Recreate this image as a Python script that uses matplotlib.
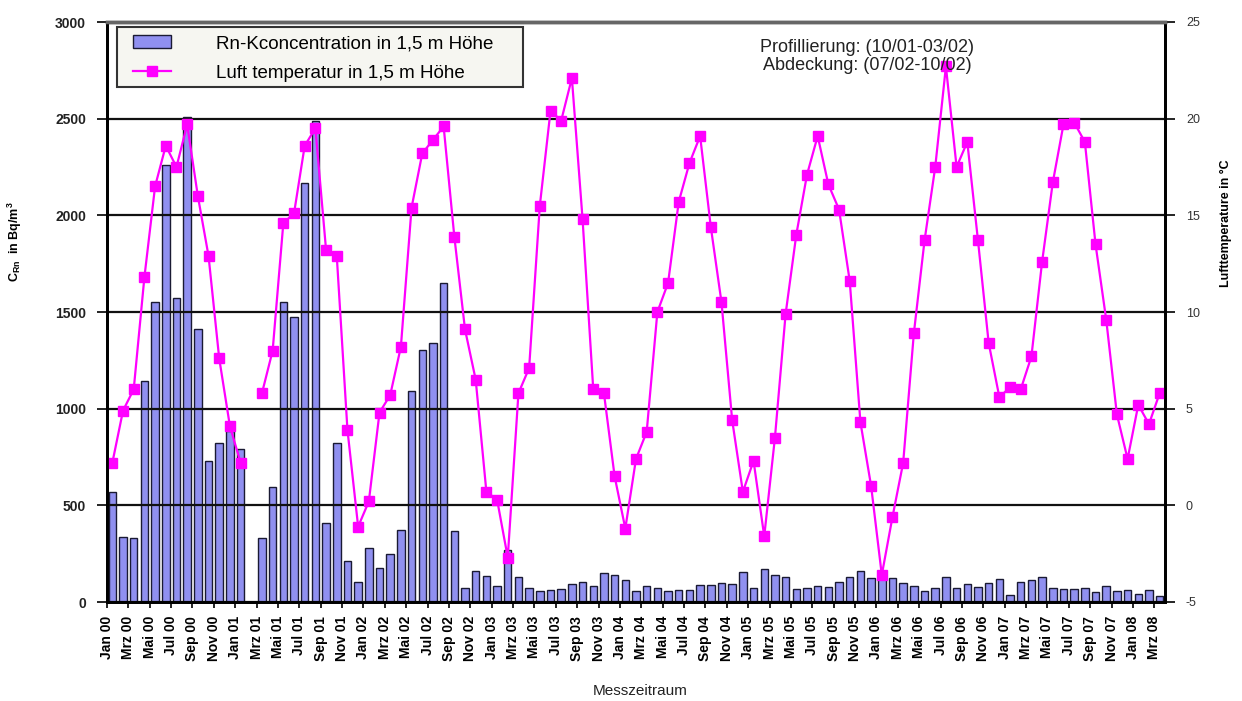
import numpy as np
import matplotlib
matplotlib.use('Agg')
import matplotlib.pyplot as plt
from matplotlib.patches import Rectangle

# Schrift wie im Original (Arial-Metrik)
plt.rcParams['font.family'] = ['Liberation Sans', 'DejaVu Sans']
plt.rcParams['mathtext.fontset'] = 'custom'
plt.rcParams['mathtext.rm'] = 'Liberation Sans'
plt.rcParams['mathtext.bf'] = 'Liberation Sans:bold'
plt.rcParams['axes.unicode_minus'] = False

# Monate Jan 00 ... Mrz 08
monate = ['Jan', 'Feb', 'Mrz', 'Apr', 'Mai', 'Jun', 'Jul', 'Aug', 'Sep', 'Okt', 'Nov', 'Dez']
jahre = ['00', '01', '02', '03', '04', '05', '06', '07', '08']
labels = [m + ' ' + j for j in jahre for m in monate][:99]

# Radon-Konzentration in Bq/m3 (Feb 01 fehlt)
radon = [
    570, 335, 333, 1145, 1553, 2260, 1575, 2510, 1410, 730, 820, 885,      # 2000
    790, np.nan, 330, 595, 1550, 1475, 2165, 2490, 410, 825, 210, 105,     # 2001
    280, 175, 250, 375, 1090, 1305, 1340, 1650, 365, 75, 160, 135,         # 2002
    85, 270, 130, 75, 55, 60, 65, 95, 105, 85, 150, 140,                   # 2003
    115, 55, 85, 75, 55, 60, 62, 88, 88, 100, 95, 157,                     # 2004
    70, 170, 140, 128, 65, 75, 83, 78, 105, 130, 160, 122,                 # 2005
    135, 125, 100, 83, 55, 75, 128, 75, 95, 78, 100, 117,                  # 2006
    36, 105, 114, 130, 70, 68, 68, 72, 50, 83, 55, 62,                     # 2007
    42, 62, 30,                                                            # 2008
]

# Lufttemperatur in °C (Feb 01 fehlt)
temperatur = [
    2.2, 4.9, 6.0, 11.8, 16.5, 18.6, 17.5, 19.7, 16.0, 12.9, 7.6, 4.1,     # 2000
    2.2, np.nan, 5.8, 8.0, 14.6, 15.1, 18.6, 19.5, 13.2, 12.9, 3.9, -1.1,  # 2001
    0.2, 4.8, 5.7, 8.2, 15.4, 18.2, 18.9, 19.6, 13.9, 9.1, 6.5, 0.7,       # 2002
    0.3, -2.7, 5.8, 7.1, 15.5, 20.4, 19.9, 22.1, 14.8, 6.0, 5.8, 1.5,      # 2003
    -1.2, 2.4, 3.8, 10.0, 11.5, 15.7, 17.7, 19.1, 14.4, 10.5, 4.4, 0.7,    # 2004
    2.3, -1.6, 3.5, 9.9, 14.0, 17.1, 19.1, 16.6, 15.3, 11.6, 4.3, 1.0,     # 2005
    -3.6, -0.6, 2.2, 8.9, 13.7, 17.5, 22.7, 17.5, 18.8, 13.7, 8.4, 5.6,    # 2006
    6.1, 6.0, 7.7, 12.6, 16.7, 19.7, 19.8, 18.8, 13.5, 9.6, 4.7, 2.4,      # 2007
    5.2, 4.2, 5.8,                                                         # 2008
]

x = np.arange(len(labels))

fig = plt.figure(figsize=(12.42, 7.01), dpi=100)
fig.subplots_adjust(left=107/1242, right=1165/1242, bottom=1-602/701, top=1-22/701)
ax = fig.add_subplot(111)
ax2 = ax.twinx()

balken = ax.bar(x, radon, width=0.7, color='#9090f0', edgecolor='#1a1a33', linewidth=1,
                label='Rn-Kconcentration in 1,5 m Höhe')
linie, = ax2.plot(x, temperatur, color='#ff00ff', lw=1.6, marker='s', ms=7,
                  label='Luft temperatur in 1,5 m Höhe')

ax.set_xlim(-0.5, len(labels) - 0.5)
ax.set_ylim(0, 3000)
ax.set_yticks(np.arange(0, 3001, 500))
ax2.set_ylim(-5, 25)
ax2.set_yticks(np.arange(-5, 26, 5))

ax.yaxis.grid(True, color='#111111', lw=1.6)
ax.set_axisbelow(False)

ax.set_xticks(x[::2] - 0.5)
ax.set_xticklabels(labels[::2], rotation=90, fontweight='bold', fontsize=10)
ax.tick_params(axis='x', length=4, width=1.2, direction='out', pad=6)
ax.tick_params(axis='y', length=7, width=1.2, direction='out', pad=8, labelsize=10)
for t in ax.get_yticklabels():
    t.set_fontweight('bold')
    t.set_color('#222222')
ax2.tick_params(axis='y', length=7, width=1.2, direction='out', pad=8, labelsize=9,
                labelcolor='#333333')

for a in (ax, ax2):
    a.spines['left'].set_linewidth(2)
    a.spines['right'].set_linewidth(2)
    a.spines['bottom'].set_linewidth(2)
    a.spines['top'].set_linewidth(2.5)
    a.spines['top'].set_color('#666666')

# Legendenrahmen von Hand, Legende ohne eigenen Rahmen darüber
fig.patches.append(Rectangle((117/1242, 1-87/701), 406/1242, 60/701, transform=fig.transFigure,
                             facecolor='#f6f6f1', edgecolor='#333333', lw=1.5, zorder=1))
fig.legend([balken, linie], [balken.get_label(), linie.get_label()],
           loc='upper left', bbox_to_anchor=(133/1242, 1-35/701), bbox_transform=fig.transFigure,
           borderaxespad=0, borderpad=0, frameon=False, fontsize=13.5,
           handlelength=2.0, handletextpad=2.4, labelspacing=0.66)

# Hinweise zu Profilierung und Abdeckung
ax2.text(867/1242, 1-47/701, 'Profillierung: (10/01-03/02)', transform=fig.transFigure,
         ha='center', va='center', fontsize=13, color='#222222')
ax2.text(867/1242, 1-65/701, 'Abdeckung: (07/02-10/02)', transform=fig.transFigure,
         ha='center', va='center', fontsize=13, color='#222222')

fig.text(15/1242, 1-242/701, r'C$_{\mathbf{Rn}}$  in Bq/m$^{\mathbf{3}}$', rotation=90,
         fontweight='bold', fontsize=9, ha='center', va='center')
fig.text(1226/1242, 1-223/701, 'Lufttemperature in °C', rotation=90,
         fontweight='bold', fontsize=9, ha='center', va='center')
fig.text(640/1242, 1-691/701, 'Messzeitraum', fontsize=11, ha='center', va='center',
         color='#222222')

fig.savefig('out.png', dpi=100)
